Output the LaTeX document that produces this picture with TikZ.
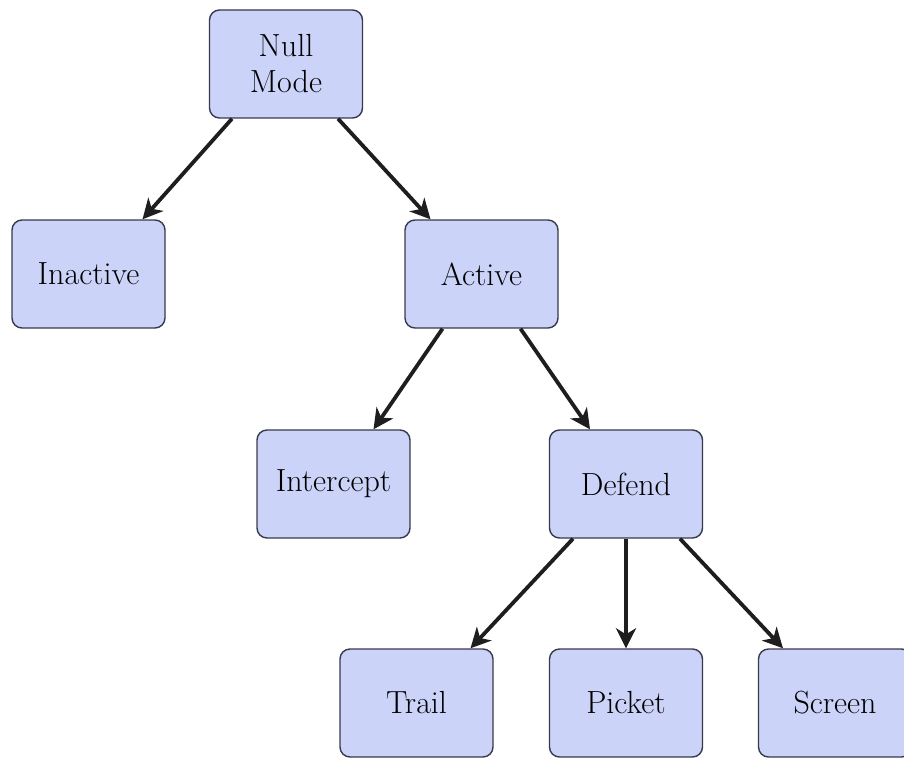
\documentclass[tikz,border=0pt]{standalone}
\usepackage{fontspec}
\setmainfont{Latin Modern Roman}
\usetikzlibrary{arrows.meta,calc}
\definecolor{boxfill}{RGB}{203,211,249}
\definecolor{boxdraw}{RGB}{55,58,75}
\definecolor{arrowcol}{RGB}{30,30,32}
\begin{document}
\begin{tikzpicture}[x=1pt,y=-1pt,
  state/.style={draw=boxdraw,line width=1.4pt,fill=boxfill,rounded corners=10pt,
    minimum width=153pt,minimum height=108pt,inner sep=0pt,align=center,
    font=\fontsize{32}{36}\selectfont},
  link/.style={draw=arrowcol,line width=3.8pt,-{Stealth[length=20pt,width=20pt,inset=6pt]}}]
\useasboundingbox (0,0) rectangle (904,757);
\node[state] (null) at (286,64) {Null\\Mode};
\node[state] (inactive) at (88.5,274) {Inactive};
\node[state] (active) at (481.5,274) {Active};
\node[state] (intercept) at (333.5,484) {Intercept};
\node[state] (defend) at (626,484) {Defend};
\node[state] (trail) at (416.5,703) {Trail};
\node[state] (picket) at (626,703) {Picket};
\node[state] (screen) at (835,703) {Screen};
\draw[link] ($(null.south)+(-54,0)$) -- ($(inactive.north)+(54,0)$);
\draw[link] ($(null.south)+(52,0)$) -- ($(active.north)+(-51,0)$);
\draw[link] ($(active.south)+(-39,0)$) -- ($(intercept.north)+(40,0)$);
\draw[link] ($(active.south)+(39,0)$) -- ($(defend.north)+(-36,0)$);
\draw[link] ($(defend.south)+(-53,0)$) -- ($(trail.north)+(54,0)$);
\draw[link] (defend.south) -- (picket.north);
\draw[link] ($(defend.south)+(54,0)$) -- ($(screen.north)+(-52,0)$);
\end{tikzpicture}
\end{document}
